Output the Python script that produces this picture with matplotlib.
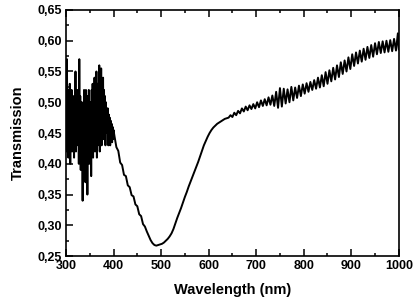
import matplotlib
matplotlib.use("Agg")
import matplotlib.pyplot as plt
from matplotlib.ticker import MultipleLocator, FuncFormatter

plt.rcParams['font.family'] = ['Liberation Sans', 'DejaVu Sans']
plt.rcParams['font.weight'] = 'bold'

# noisy UV part, 300-400 nm, 1 nm steps
wl_uv = list(range(300, 401))
tr_uv = [0.53, 0.42, 0.57, 0.44, 0.52, 0.41, 0.50, 0.43, 0.53, 0.40,
         0.51, 0.44, 0.52, 0.42, 0.49, 0.43, 0.51, 0.41, 0.50, 0.44,
         0.55, 0.42, 0.51, 0.43, 0.52, 0.44, 0.50, 0.40, 0.57, 0.43,
         0.51, 0.39, 0.50, 0.42, 0.49, 0.34, 0.50, 0.43, 0.52, 0.41,
         0.50, 0.37, 0.52, 0.42, 0.49, 0.35, 0.51, 0.43, 0.52, 0.40,
         0.49, 0.42, 0.50, 0.38, 0.52, 0.43, 0.53, 0.41, 0.51, 0.43,
         0.54, 0.42, 0.52, 0.44, 0.55, 0.41, 0.53, 0.43, 0.52, 0.44,
         0.56, 0.42, 0.53, 0.44, 0.555, 0.43, 0.52, 0.45, 0.54, 0.44,
         0.52, 0.45, 0.51, 0.43, 0.50, 0.45, 0.49, 0.46, 0.49, 0.43,
         0.48, 0.44, 0.475, 0.43, 0.47, 0.44, 0.465, 0.435, 0.46, 0.44,
         0.455]

# absorption band, 402-642 nm, 4 nm steps
wl_band = list(range(402, 643, 4))
tr_band = [0.445, 0.427, 0.421, 0.402, 0.398, 0.382, 0.380, 0.365, 0.362, 0.349,
           0.347, 0.334, 0.331, 0.318, 0.315, 0.302, 0.298, 0.290, 0.283, 0.276,
           0.271, 0.268, 0.267, 0.268, 0.269, 0.270, 0.272, 0.275, 0.278, 0.282,
           0.287, 0.294, 0.303, 0.312, 0.320, 0.328, 0.337, 0.346, 0.354, 0.363,
           0.371, 0.379, 0.387, 0.395, 0.403, 0.412, 0.421, 0.430, 0.437, 0.444,
           0.450, 0.455, 0.459, 0.462, 0.465, 0.467, 0.469, 0.471, 0.473, 0.474,
           0.475]

# visible / NIR part, 646-998 nm, 4 nm steps, plus 1000
wl_vis = list(range(646, 999, 4)) + [1000]
tr_vis = [0.479, 0.476, 0.483, 0.479, 0.486, 0.482, 0.490, 0.485, 0.493, 0.487,
          0.495, 0.489, 0.497, 0.490, 0.500, 0.492, 0.503, 0.494, 0.505, 0.495,
          0.508, 0.496, 0.511, 0.494, 0.517, 0.491, 0.523, 0.493, 0.522, 0.498,
          0.521, 0.500, 0.525, 0.503, 0.524, 0.507, 0.527, 0.510, 0.529, 0.514,
          0.531, 0.517, 0.533, 0.520, 0.536, 0.522, 0.540, 0.524, 0.544, 0.526,
          0.549, 0.530, 0.552, 0.534, 0.556, 0.537, 0.560, 0.541, 0.565, 0.546,
          0.568, 0.550, 0.573, 0.554, 0.578, 0.559, 0.581, 0.563, 0.584, 0.566,
          0.587, 0.569, 0.590, 0.572, 0.593, 0.574, 0.596, 0.578, 0.598, 0.580,
          0.599, 0.581, 0.600, 0.582, 0.601, 0.583, 0.603, 0.584, 0.612, 0.586]

wavelength = wl_uv + wl_band + wl_vis
transmission = tr_uv + tr_band + tr_vis

fig = plt.figure(figsize=(4.15, 3.02), dpi=100)
ax = fig.add_axes([0.159, 0.152, 0.802, 0.815])
ax.plot(wavelength, transmission, color='black', linewidth=1.4)

ax.set_xlim(300, 1000)
ax.set_ylim(0.25, 0.65)
ax.xaxis.set_major_locator(MultipleLocator(100))
ax.xaxis.set_minor_locator(MultipleLocator(50))
ax.yaxis.set_major_locator(MultipleLocator(0.05))
ax.yaxis.set_minor_locator(MultipleLocator(0.025))
ax.yaxis.set_major_formatter(FuncFormatter(lambda v, p: f"{v:.2f}".replace('.', ',')))

ax.tick_params(which='both', direction='in', top=True, right=False,
               width=1.1, labelsize=9, pad=3)
ax.tick_params(which='major', length=5)
ax.tick_params(which='minor', length=2.5)
for s in ax.spines.values():
    s.set_linewidth(1.2)

ax.set_xlabel('Wavelength (nm)', fontsize=10.5, fontweight='bold', labelpad=8)
ax.set_ylabel('Transmission', fontsize=10.5, fontweight='bold', labelpad=9)

fig.savefig('out.png', dpi=100)
